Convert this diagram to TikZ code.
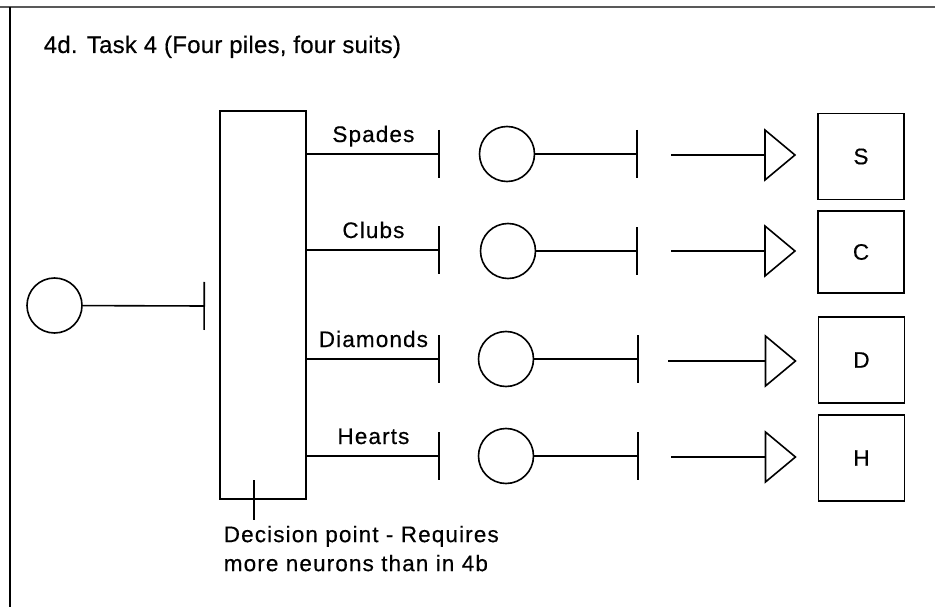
\documentclass[tikz,border=0pt]{standalone}
\usepackage{fontspec}
\setmainfont{Liberation Sans}
\newfontfamily\labfont[LetterSpace=5, FakeBold=0.4]{Liberation Sans}
\newfontfamily\titlefont[LetterSpace=1, FakeBold=0.4]{Liberation Sans}
\usetikzlibrary{arrows.meta}

\begin{document}
\begin{tikzpicture}[x=1pt, y=-1pt, line width=1.6pt,
	neuron/.style={circle, draw, minimum size=55pt, inner sep=0pt},
	pile/.style={draw, minimum width=86pt, minimum height=86pt, font=\labfont\fontsize{22.5}{27}\selectfont},
	lab/.style={anchor=base, yshift=12pt, inner sep=0pt, font=\labfont\fontsize{22.5}{27}\selectfont},
	inh/.style={-{Bar[width=48pt]}},
	exc/.style={-{Triangle[open, length=32pt, width=53pt]}, shorten >=21pt}]
		\useasboundingbox (0,0) rectangle (935,607);
		\draw[black!65, line width=2pt] (0,7) -- (935,7);
		\draw[line width=2pt] (10,7) -- (10,607);
		
		\node[anchor=base west, inner sep=0pt, font=\titlefont\fontsize{24}{28}\selectfont] (title) at (43,53) {4d. Task 4 (Four piles, four suits)};
		
		% input neuron and decision point
		\node[neuron] (in) at (54.5,305.5) {};
		\coordinate (inB) at (205,306);
		\node[draw, minimum width=86pt, minimum height=388pt, inner sep=0pt] (dec) at (263,305) {};
		\draw[inh] (in) -- (inB);
		
		% suit neurons
		\node[neuron] (sn) at (507,154) {};
		\node[neuron] (cn) at (508,251) {};
		\node[neuron] (dn) at (506,359) {};
		\node[neuron] (hn) at (506,456) {};
		
		% piles
		\node[pile] (S) at (861,156.5) {S};
		\node[pile, minimum height=82pt] (C) at (861,252) {C};
		\node[pile] (D) at (861.5,360) {D};
		\node[pile] (H) at (861.5,458) {H};
		
		\coordinate (sB) at (440,154);
		\coordinate (cB) at (440,250);
		\coordinate (dB) at (440,359);
		\coordinate (hB) at (440,456);
		\coordinate (sO) at (638,154);
		\coordinate (cO) at (638,251);
		\coordinate (dO) at (639,359);
		\coordinate (hO) at (639,456);
		\coordinate (sA) at (671,155);
		\coordinate (cA) at (671,251);
		\coordinate (dA) at (668,361);
		\coordinate (hA) at (671,457);
		
		\draw[inh] (dec.east |- sB) -- node[lab] {Spades} (sB);
		\draw[inh] (dec.east |- cB) -- node[lab] {Clubs} (cB);
		\draw[inh] (dec.east |- dB) -- node[lab] {Diamonds} (dB);
		\draw[inh] (dec.east |- hB) -- node[lab] {Hearts} (hB);
		
		\path[inh]
		(sn) edge (sO)
		(cn) edge (cO)
		(dn) edge (dO)
		(hn) edge (hO);
		
		\path[exc]
		(sA) edge (sA -| S.west)
		(cA) edge (cA -| C.west)
		(dA) edge (dA -| D.west)
		(hA) edge (hA -| H.west);
		
		% note
		\node[anchor=north west, align=left, inner sep=0pt, font=\labfont\fontsize{22.5}{29}\selectfont] (note) at (223,525) {Decision point - Requires\\more neurons than in 4b};
		\coordinate (dp) at (254,480);
		\draw (dp) -- (dp |- 0,520);
		
	\end{tikzpicture}
\end{document}
